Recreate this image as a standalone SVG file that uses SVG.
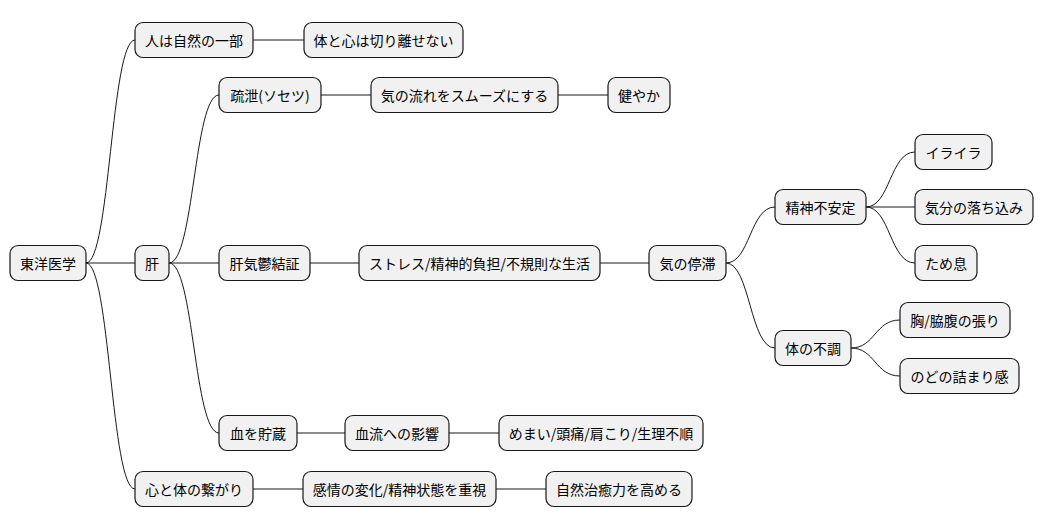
<svg xmlns="http://www.w3.org/2000/svg" width="1044" height="527" viewBox="0 0 1044 527">
<style>
.n rect{fill:#f1f1f1;stroke:#181818;stroke-width:1.2}
.n text{font-family:"Noto Sans CJK JP","Liberation Sans",sans-serif;font-size:14px;fill:#000;text-anchor:middle;dominant-baseline:central}
#c path{fill:none;stroke:#181818;stroke-width:1}
</style>
<rect width="1044" height="527" fill="#fff"/>
<g id="c">
<path d="M86,263 C110,263 111,40 135,40"/>
<path d="M86,263 L135,263"/>
<path d="M86,263 C110,263 111,489 135,489"/>
<path d="M253,40 L304,40"/>
<path d="M169,263 C194,263 194,95 219,95"/>
<path d="M169,263 L219,263"/>
<path d="M169,263 C194,263 194,433 219,433"/>
<path d="M321,95 L371,95"/>
<path d="M558,95 L608,95"/>
<path d="M310,263 L359,263"/>
<path d="M600,263 L649,263"/>
<path d="M726,263 C750,263 750,207 775,207"/>
<path d="M726,263 C750,263 750,348 775,348"/>
<path d="M866,207 C890,207 890,152 915,152"/>
<path d="M866,207 L915,207"/>
<path d="M866,207 C890,207 890,263 915,263"/>
<path d="M851,348 C875,348 875,320 900,320"/>
<path d="M851,348 C875,348 875,376 900,376"/>
<path d="M297,433 L345,433"/>
<path d="M449,433 L499,433"/>
<path d="M253,489 L303,489"/>
<path d="M496,489 L546,489"/>
</g>
<g id="n1" class="n"><rect x="10" y="245.5" width="76" height="35" rx="8"/><text x="48" y="263">東洋医学</text></g>
<g id="n2" class="n"><rect x="135" y="22.5" width="118" height="35" rx="8"/><text x="194" y="40">人は自然の一部</text></g>
<g id="n3" class="n"><rect x="304" y="22.5" width="159" height="35" rx="8"/><text x="383.5" y="40">体と心は切り離せない</text></g>
<g id="n4" class="n"><rect x="135" y="245.5" width="34" height="35" rx="8"/><text x="152" y="263">肝</text></g>
<g id="n5" class="n"><rect x="219" y="77.5" width="102" height="35" rx="8"/><text x="270" y="95">疏泄(ソセツ)</text></g>
<g id="n6" class="n"><rect x="371" y="77.5" width="187" height="35" rx="8"/><text x="464.5" y="95">気の流れをスムーズにする</text></g>
<g id="n7" class="n"><rect x="608" y="77.5" width="62" height="35" rx="8"/><text x="639" y="95">健やか</text></g>
<g id="n8" class="n"><rect x="219" y="245.5" width="91" height="35" rx="8"/><text x="264.5" y="263">肝気鬱結証</text></g>
<g id="n9" class="n"><rect x="359" y="245.5" width="241" height="35" rx="8"/><text x="479.5" y="263">ストレス/精神的負担/不規則な生活</text></g>
<g id="n10" class="n"><rect x="649" y="245.5" width="77" height="35" rx="8"/><text x="687.5" y="263">気の停滞</text></g>
<g id="n11" class="n"><rect x="775" y="189.5" width="91" height="35" rx="8"/><text x="820.5" y="207">精神不安定</text></g>
<g id="n12" class="n"><rect x="915" y="134.5" width="77" height="35" rx="8"/><text x="953.5" y="152">イライラ</text></g>
<g id="n13" class="n"><rect x="915" y="189.5" width="118" height="35" rx="8"/><text x="974" y="207">気分の落ち込み</text></g>
<g id="n14" class="n"><rect x="915" y="245.5" width="62" height="35" rx="8"/><text x="946" y="263">ため息</text></g>
<g id="n15" class="n"><rect x="775" y="330.5" width="76" height="35" rx="8"/><text x="813" y="348">体の不調</text></g>
<g id="n16" class="n"><rect x="900" y="302.5" width="110" height="35" rx="8"/><text x="955" y="320">胸/脇腹の張り</text></g>
<g id="n17" class="n"><rect x="900" y="358.5" width="119" height="35" rx="8"/><text x="959.5" y="376">のどの詰まり感</text></g>
<g id="n18" class="n"><rect x="219" y="415.5" width="78" height="35" rx="8"/><text x="258" y="433">血を貯蔵</text></g>
<g id="n19" class="n"><rect x="345" y="415.5" width="104" height="35" rx="8"/><text x="397" y="433">血流への影響</text></g>
<g id="n20" class="n"><rect x="499" y="415.5" width="204" height="35" rx="8"/><text x="601" y="433">めまい/頭痛/肩こり/生理不順</text></g>
<g id="n21" class="n"><rect x="135" y="471.5" width="118" height="35" rx="8"/><text x="194" y="489">心と体の繋がり</text></g>
<g id="n22" class="n"><rect x="303" y="471.5" width="193" height="35" rx="8"/><text x="399.5" y="489">感情の変化/精神状態を重視</text></g>
<g id="n23" class="n"><rect x="546" y="471.5" width="146" height="35" rx="8"/><text x="619" y="489">自然治癒力を高める</text></g>
</svg>
